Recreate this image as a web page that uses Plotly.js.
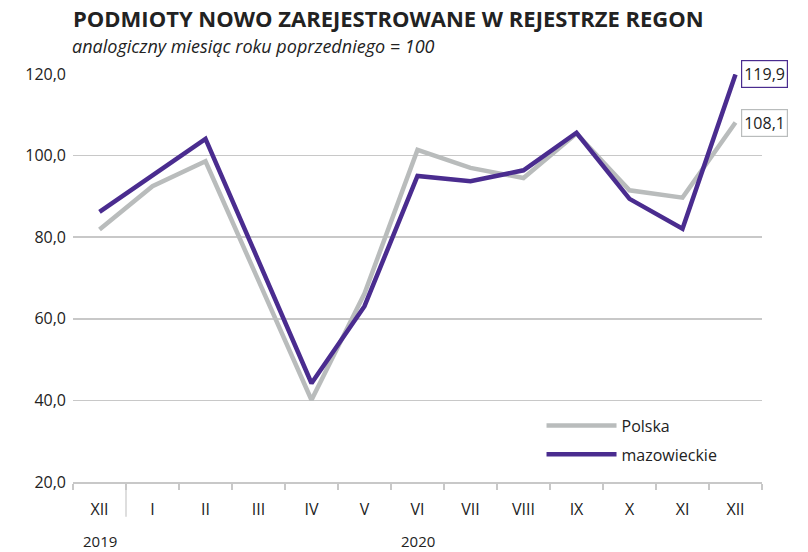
<!DOCTYPE html>
<html>
<head>
<meta charset="utf-8">
<script src="https://cdn.plot.ly/plotly-3.0.1.min.js"></script>
<style>body{margin:0;background:#fff}#chart{width:808px;height:552px}</style>
</head>
<body>
<div id="chart"></div>
<script>
const categories = ["XII 2019","I","II","III","IV","V","VI","VII","VIII","IX","X","XI","XII"];
const tickLabels = ["XII","I","II","III","IV","V","VI","VII","VIII","IX","X","XI","XII"];
const polska = [81.9, 92.5, 98.6, 69.5, 40.1, 66.2, 101.4, 97.0, 94.5, 105.4, 91.5, 89.7, 108.1];
const mazowieckie = [86.2, 95.1, 104.1, 74.2, 44.2, 63.1, 95.0, 93.7, 96.4, 105.6, 89.4, 82.1, 119.9];
const years = [{label: "2019", at: 0}, {label: "2020", at: 6}];

const grey = "#b9bcbc";
const purple = "#4a2c8f";
const font = "Open Sans, sans-serif";

const fmt = v => v.toFixed(1).replace(".", ",");

const traces = [
  {x: categories, y: polska, name: "Polska", type: "scatter", mode: "lines", legendgroup: "a",
   line: {color: grey, width: 4.5}},
  {x: categories, y: mazowieckie, name: "mazowieckie", type: "scatter", mode: "lines", legendgroup: "b",
   line: {color: purple, width: 4.5}}
];

const last = categories.length - 1;
const annotations = [
  {x: categories[last], y: mazowieckie[last], xref: "x", yref: "y", text: fmt(mazowieckie[last]),
   showarrow: false, xanchor: "left", xshift: 5, bordercolor: purple, borderwidth: 1.2, borderpad: 2,
   bgcolor: "#fff", font: {family: font, size: 16, color: "#222"}},
  {x: categories[last], y: polska[last], xref: "x", yref: "y", text: fmt(polska[last]),
   showarrow: false, xanchor: "left", xshift: 5, bordercolor: grey, borderwidth: 1.2, borderpad: 2,
   bgcolor: "#fff", font: {family: font, size: 16, color: "#222"}},
  {x: 0, y: 1, xref: "paper", yref: "paper", yshift: 28, xshift: -3, xanchor: "left", yanchor: "middle",
   text: "<i>analogiczny miesiąc roku poprzedniego = 100</i>", showarrow: false,
   font: {family: font, size: 18, color: "#222"}}
];
years.forEach(yr => annotations.push({
  x: categories[yr.at], y: 0, xref: "x", yref: "paper", yshift: -59, yanchor: "middle",
  text: yr.label, showarrow: false, borderpad: 0, font: {family: font, size: 15, color: "#222"}
}));

const layout = {
  width: 808, height: 552,
  margin: {l: 73, r: 46, t: 74, b: 70},
  paper_bgcolor: "#fff", plot_bgcolor: "#fff",
  font: {family: font, color: "#222"},
  separators: ", ",
  title: {text: "<b>PODMIOTY NOWO ZAREJESTROWANE W REJESTRZE REGON</b>",
          xref: "paper", x: 0, xanchor: "left", yref: "container", y: 0.965, yanchor: "middle",
          font: {family: font, size: 22, color: "#222"}},
  showlegend: true,
  legend: {x: 0.68, y: 0.18, xanchor: "left", yanchor: "top", bgcolor: "rgba(0,0,0,0)",
           itemwidth: 70, tracegroupgap: 5, font: {family: font, size: 16, color: "#222"}},
  xaxis: {type: "category", tickmode: "array", tickvals: categories, ticktext: tickLabels,
          tickson: "boundaries", ticks: "outside", ticklen: 6, tickcolor: "#c8c8c8", tickwidth: 1.2,
          showline: true, linecolor: "#c8c8c8", linewidth: 1.5, showgrid: false,
          range: [-0.5, 12.5], fixedrange: true,
          tickfont: {family: font, size: 16, color: "#222"}, ticklabelstandoff: 12},
  yaxis: {range: [20, 120], dtick: 20, tick0: 20, tickformat: ".1f", showgrid: true,
          gridcolor: "#c8c8c8", gridwidth: 1.5, zeroline: false, showline: false, ticks: "",
          ticklabelstandoff: 6, tickfont: {family: font, size: 16, color: "#222"}},
  annotations: annotations,
  shapes: [
    {type: "line", xref: "x", yref: "paper", x0: 0.5, x1: 0.5, y0: 0, y1: -0.085,
     line: {color: "#c8c8c8", width: 1.2}}
  ]
};

Plotly.newPlot("chart", traces, layout, {displayModeBar: false, staticPlot: true});
</script>
</body>
</html>
